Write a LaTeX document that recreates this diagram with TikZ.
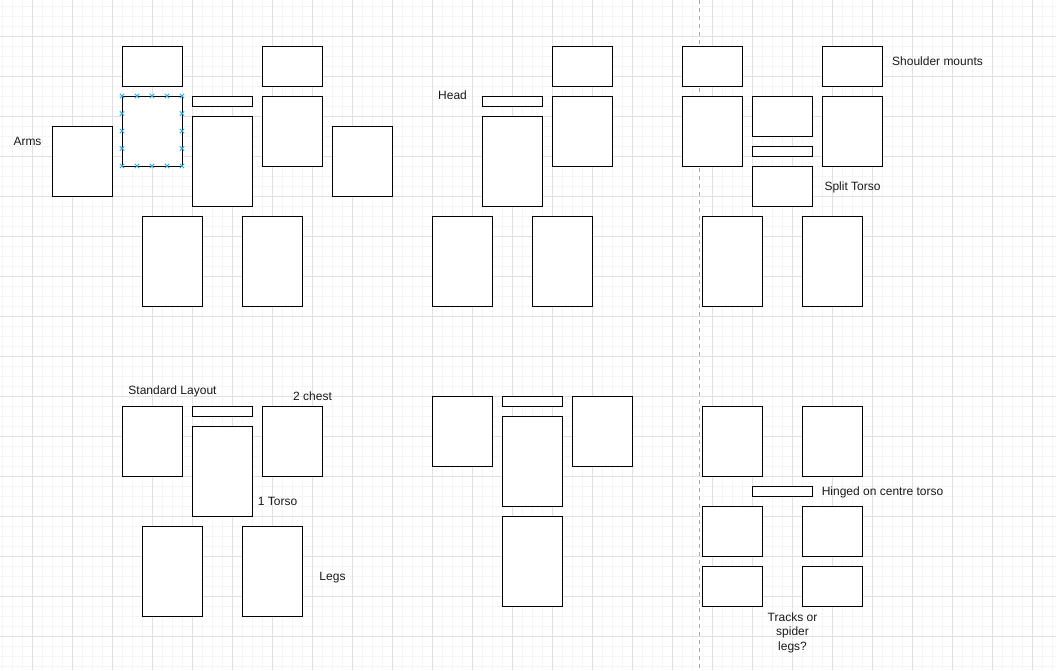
\documentclass[tikz,border=0pt]{standalone}
\usepackage{fontspec}
\setmainfont{Liberation Sans}
\definecolor{minorc}{RGB}{245,245,245}
\definecolor{majorc}{RGB}{224,224,224}
\definecolor{selc}{RGB}{41,170,230}
\definecolor{sepc}{RGB}{170,170,170}
\tikzset{
  part/.style={draw=black, fill=white, line width=1pt, inner sep=0pt, outer sep=0pt, anchor=north west},
  lbl/.style={font=\fontsize{12}{14.5}\selectfont, inner sep=0pt, align=center, text=black!90, text height=8.6pt, text depth=0pt},
  lbltwo/.style={font=\fontsize{12}{14.5}\selectfont, inner sep=0pt, align=center, text=black!90},
  minorline/.style={draw=minorc, line width=1pt},
  majorline/.style={draw=majorc, line width=1pt},
  selmark/.style={draw=selc, line width=0.9pt},
  sepline/.style={draw=sepc, line width=0.8pt, dash pattern=on 4pt off 4pt}
}
\newcommand\bx[5]{\node[part, minimum width=#4pt, minimum height=#5pt] (#1) at (#2,#3) {};}
\newcommand\selx[2]{\draw[selmark] (#1-2.2,#2-2.2) -- (#1+2.2,#2+2.2) (#1-2.2,#2+2.2) -- (#1+2.2,#2-2.2);}
\begin{document}
\begin{tikzpicture}[x=1pt,y=-1pt]
\useasboundingbox (0,0) rectangle (1056,670);
\fill[white] (0,0) rectangle (1056,670);
% grid
\foreach \x in {2,12,...,1052} \draw[minorline] (\x,0) -- (\x,670);
\foreach \y in {6,16,...,666} \draw[minorline] (0,\y) -- (1056,\y);
\foreach \x in {32,72,...,1032} \draw[majorline] (\x,0) -- (\x,670);
\foreach \y in {36,76,...,636} \draw[majorline] (0,\y) -- (1056,\y);
% separator
\coordinate (septop) at (699.5,0);
\coordinate (sepbot) at (699.5,670);
\draw[sepline] (septop) -- (sepbot);

% ---- group 1: top left
\bx{g1sa}{122}{46}{60}{40}
\bx{g1sb}{262}{46}{60}{40}
\bx{g1ca}{122}{96}{60}{70}
\bx{g1head}{192}{96}{60}{10}
\bx{g1torso}{192}{116}{60}{90}
\bx{g1cb}{262}{96}{60}{70}
\bx{g1arma}{52}{126}{60}{70}
\bx{g1armb}{332}{126}{60}{70}
\bx{g1lega}{142}{216}{60}{90}
\bx{g1legb}{242}{216}{60}{90}
\node[lbl] (arms) at (27.5,141) {Arms};
% selection markers
\foreach \x in {122,137,152,167,182} {\selx{\x}{96}\selx{\x}{166}}
\foreach \y in {113.5,131,148.5} {\selx{122}{\y}\selx{182}{\y}}

% ---- group 2: top middle
\bx{g2sb}{552}{46}{60}{40}
\bx{g2head}{482}{96}{60}{10}
\bx{g2torso}{482}{116}{60}{90}
\bx{g2cb}{552}{96}{60}{70}
\bx{g2lega}{432}{216}{60}{90}
\bx{g2legb}{532}{216}{60}{90}
\node[lbl] (head) at (452.5,95.5) {Head};

% ---- group 3: top right
\bx{g3sa}{682}{46}{60}{40}
\bx{g3sb}{822}{46}{60}{40}
\bx{g3ca}{682}{96}{60}{70}
\bx{g3ta}{752}{96}{60}{40}
\bx{g3bar}{752}{146}{60}{10}
\bx{g3tb}{752}{166}{60}{40}
\bx{g3cb}{822}{96}{60}{70}
\bx{g3lega}{702}{216}{60}{90}
\bx{g3legb}{802}{216}{60}{90}
\node[lbl] (shoulder) at (937.5,61) {Shoulder mounts};
\node[lbl] (split) at (852.5,186) {Split Torso};

% ---- group 4: bottom left
\bx{g4ca}{122}{406}{60}{70}
\bx{g4head}{192}{406}{60}{10}
\bx{g4torso}{192}{426}{60}{90}
\bx{g4cb}{262}{406}{60}{70}
\bx{g4lega}{142}{526}{60}{90}
\bx{g4legb}{242}{526}{60}{90}
\node[lbl] (std) at (172.5,390.5) {Standard Layout};
\node[lbl] (chest) at (312.5,396) {2 chest};
\node[lbl] (torso) at (277.5,501) {1 Torso};
\node[lbl] (legs) at (332.5,576) {Legs};

% ---- group 5: bottom middle
\bx{g5ca}{432}{396}{60}{70}
\bx{g5head}{502}{396}{60}{10}
\bx{g5torso}{502}{416}{60}{90}
\bx{g5cb}{572}{396}{60}{70}
\bx{g5leg}{502}{516}{60}{90}

% ---- group 6: bottom right
\bx{g6ca}{702}{406}{60}{70}
\bx{g6cb}{802}{406}{60}{70}
\bx{g6bar}{752}{486}{60}{10}
\bx{g6ma}{702}{506}{60}{50}
\bx{g6mb}{802}{506}{60}{50}
\bx{g6la}{702}{566}{60}{40}
\bx{g6lb}{802}{566}{60}{40}
\node[lbl] (hinged) at (882.5,491) {Hinged on centre torso};
\node[lbltwo] (tracks) at (792.5,632.5) {Tracks or\\spider\\legs?};
\end{tikzpicture}
\end{document}
